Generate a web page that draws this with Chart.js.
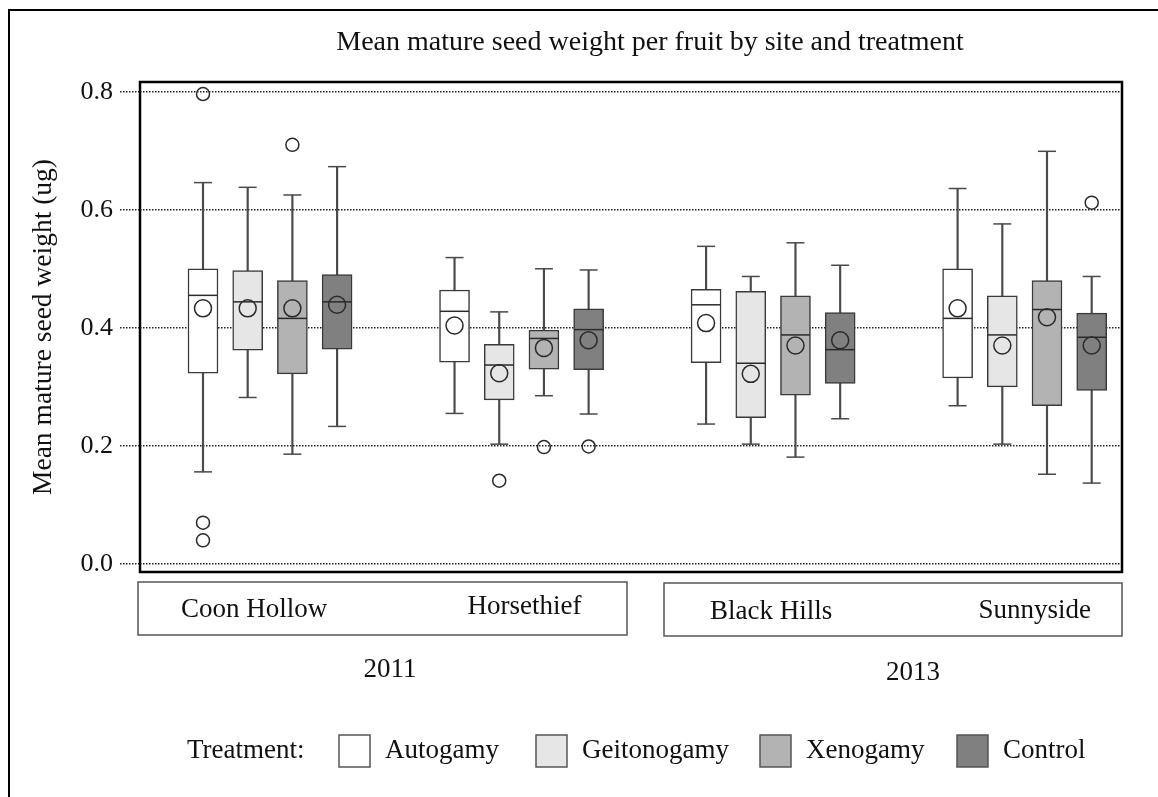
<!DOCTYPE html>
<html>
<head>
<meta charset="utf-8">
<title>Mean mature seed weight per fruit</title>
<script src="https://cdn.jsdelivr.net/npm/chart.js@4.4.1/dist/chart.umd.min.js"></script>
<style>
  html, body { margin: 0; padding: 0; background: #fff; overflow: hidden; }
  #wrap { width: 1158px; height: 797px; position: relative; }
</style>
</head>
<body>
<div id="wrap"><canvas id="seedChart"></canvas></div>
<script>
// sites (x groups), years they belong to, treatments (box colours)
const sites = ['Coon Hollow', 'Horsethief', 'Black Hills', 'Sunnyside'];
const years = ['2011', '2013'];
const treatments = ['Autogamy', 'Geitonogamy', 'Xenogamy', 'Control'];
const yTicks = [0.0, 0.2, 0.4, 0.6, 0.8];

// each row = one treatment, columns follow `sites`
const whiskerLow = [
    [0.156, 0.255, 0.237, 0.268],
    [0.282, 0.203, 0.203, 0.203],
    [0.186, 0.285, 0.181, 0.152],
    [0.233, 0.254, 0.246, 0.137]
];
const q1 = [
    [0.323, 0.342, 0.341, 0.315],
    [0.362, 0.278, 0.248, 0.300],
    [0.322, 0.330, 0.286, 0.268],
    [0.364, 0.329, 0.306, 0.294]
];
const medians = [
    [0.455, 0.428, 0.439, 0.416],
    [0.444, 0.337, 0.340, 0.388],
    [0.416, 0.382, 0.388, 0.431],
    [0.444, 0.397, 0.363, 0.384]
];
const q3 = [
    [0.500, 0.464, 0.465, 0.500],
    [0.497, 0.372, 0.462, 0.454],
    [0.480, 0.396, 0.454, 0.480],
    [0.490, 0.432, 0.426, 0.425]
];
const whiskerHigh = [
    [0.646, 0.519, 0.538, 0.636],
    [0.638, 0.427, 0.487, 0.576],
    [0.625, 0.500, 0.544, 0.699],
    [0.673, 0.498, 0.506, 0.487]
];
const means = [
    [0.433, 0.404, 0.408, 0.433],
    [0.433, 0.323, 0.322, 0.370],
    [0.433, 0.366, 0.370, 0.418],
    [0.439, 0.379, 0.379, 0.370]
];
const outliers = [
    [[0.796, 0.070, 0.040], [], [], []],
    [[], [0.141], [], []],
    [[0.710], [0.198], [], []],
    [[], [0.199], [], [0.612]]
];

const chartTitle = 'Mean mature seed weight per fruit by site and treatment';
const fills = ['#ffffff', '#e6e6e6', '#b3b3b3', '#808080'];
const serif = '"Liberation Serif", "Times New Roman", serif';
const ink = '#111111';

// box position inside a site group
const boxStep = 0.1777;
function boxX(t, s) {
    return (s + 1) + (t - 1.5) * boxStep;
}

const datasets = [];

treatments.forEach((name, t) => {
    // whisker stems behind the box
    datasets.push({
        type: 'bar',
        label: name + ' whisker',
        data: sites.map((_, s) => ({ x: boxX(t, s), y: [whiskerLow[t][s], whiskerHigh[t][s]] })),
        backgroundColor: '#4a4a4a',
        borderWidth: 0,
        grouped: false,
        barPercentage: 1,
        categoryPercentage: 1,
        maxBarThickness: 1.5,
        order: 6
    });
    // interquartile box
    datasets.push({
        type: 'bar',
        label: name,
        data: sites.map((_, s) => ({ x: boxX(t, s), y: [q1[t][s], q3[t][s]] })),
        backgroundColor: fills[t],
        borderColor: '#3a3a3a',
        borderWidth: 1.5,
        borderSkipped: false,
        grouped: false,
        barPercentage: 1,
        categoryPercentage: 1,
        maxBarThickness: 30,
        order: 5
    });
    // whisker caps
    const caps = [];
    sites.forEach((_, s) => {
        caps.push({ x: boxX(t, s), y: whiskerLow[t][s] });
        caps.push({ x: boxX(t, s), y: whiskerHigh[t][s] });
    });
    datasets.push({
        type: 'line',
        label: name + ' caps',
        data: caps,
        showLine: false,
        pointStyle: 'line',
        pointRadius: 9,
        borderColor: '#4a4a4a',
        borderWidth: 1.5,
        order: 4
    });
    // median line
    datasets.push({
        type: 'line',
        label: name + ' median',
        data: sites.map((_, s) => ({ x: boxX(t, s), y: medians[t][s] })),
        showLine: false,
        pointStyle: 'line',
        pointRadius: 14.5,
        borderColor: '#2a2a2a',
        borderWidth: 1.5,
        order: 3
    });
    // mean circle
    datasets.push({
        type: 'line',
        label: name + ' mean',
        data: sites.map((_, s) => ({ x: boxX(t, s), y: means[t][s] })),
        showLine: false,
        pointStyle: 'circle',
        pointRadius: 8.5,
        pointBackgroundColor: 'rgba(0,0,0,0)',
        pointBorderColor: '#2a2a2a',
        pointBorderWidth: 1.5,
        order: 2
    });
    // outliers
    const pts = [];
    sites.forEach((_, s) => {
        outliers[t][s].forEach(v => pts.push({ x: boxX(t, s), y: v }));
    });
    datasets.push({
        type: 'line',
        label: name + ' outliers',
        data: pts,
        showLine: false,
        pointStyle: 'circle',
        pointRadius: 6.5,
        pointBackgroundColor: 'rgba(0,0,0,0)',
        pointBorderColor: '#2a2a2a',
        pointBorderWidth: 1.5,
        order: 1
    });
});

// title, frame, site strips, year labels and the treatment key
const decorations = {
    id: 'decorations',
    afterDraw(chart) {
        const ctx = chart.ctx;
        const area = chart.chartArea;
        ctx.save();

        // outer figure border (only top/left visible)
        ctx.strokeStyle = '#000';
        ctx.lineWidth = 2;
        ctx.beginPath();
        ctx.moveTo(9, 797);
        ctx.lineTo(9, 10);
        ctx.lineTo(1158, 10);
        ctx.stroke();

        // panel frame
        ctx.lineWidth = 2.5;
        ctx.strokeStyle = '#000';
        ctx.strokeRect(area.left, area.top, area.right - area.left, area.bottom - area.top);

        // title
        ctx.fillStyle = ink;
        ctx.textBaseline = 'middle';
        ctx.textAlign = 'center';
        ctx.font = '28px ' + serif;
        ctx.fillText(chartTitle, 650, 43);

        // site strips, one per year
        const strips = [
            { x0: 138, x1: 627, y0: 582, y1: 635, year: years[0], yearX: 390, yearY: 670 },
            { x0: 664, x1: 1122, y0: 583, y1: 636, year: years[1], yearX: 913, yearY: 673 }
        ];
        ctx.lineWidth = 1.5;
        ctx.strokeStyle = '#555';
        ctx.font = '27px ' + serif;
        strips.forEach(st => {
            ctx.strokeRect(st.x0, st.y0, st.x1 - st.x0, st.y1 - st.y0);
            ctx.fillText(st.year, st.yearX, st.yearY);
        });
        const labelNudge = [-16, 3, -2, 10];
        const labelY = [610, 607, 612, 611];
        sites.forEach((s, i) => {
            const px = chart.scales.x.getPixelForValue(i + 1) + labelNudge[i];
            ctx.fillText(s, px, labelY[i]);
        });

        // treatment key
        ctx.textAlign = 'left';
        ctx.fillText('Treatment:', 187, 751);
        const keyX = [339, 536, 760, 957];
        treatments.forEach((name, t) => {
            ctx.fillStyle = fills[t];
            ctx.fillRect(keyX[t], 735, 31, 32);
            ctx.strokeStyle = '#555';
            ctx.lineWidth = 1.5;
            ctx.strokeRect(keyX[t], 735, 31, 32);
            ctx.fillStyle = ink;
            ctx.fillText(name, keyX[t] + 46, 751);
        });
        ctx.restore();
    }
};

new Chart(document.getElementById('seedChart'), {
    type: 'bar',
    data: { datasets },
    options: {
        responsive: true,
        maintainAspectRatio: false,
        animation: false,
        events: [],
        layout: { padding: { left: 10, top: 82, right: 36, bottom: 225 } },
        plugins: {
            legend: { display: false },
            tooltip: { enabled: false },
            title: { display: false }
        },
        scales: {
            x: {
                type: 'linear',
                display: false,
                offset: false,
                min: 0.483,
                max: 4.387,
                ticks: { stepSize: 1, includeBounds: false },
                grid: { offset: false }
            },
            y: {
                type: 'linear',
                min: -0.0136,
                max: 0.8164,
                afterBuildTicks: (scale) => {
                    scale.ticks = yTicks.map(v => ({ value: v }));
                },
                afterFit: (scale) => { scale.width = 130; },
                ticks: {
                    color: ink,
                    padding: 7,
                    font: { family: serif, size: 26 },
                    callback: (v) => Number(v).toFixed(1)
                },
                grid: {
                    color: '#222',
                    lineWidth: 1.5,
                    tickLength: 20,
                    tickColor: '#222',
                    tickWidth: 1.5,
                    tickBorderDash: [1.5, 1.5]
                },
                border: { display: false, dash: [1.5, 1.5] },
                title: {
                    display: true,
                    text: 'Mean mature seed weight (ug)',
                    color: ink,
                    font: { family: serif, size: 27.5 },
                    padding: { top: 17, bottom: 0 }
                }
            }
        }
    },
    plugins: [decorations]
});
</script>
</body>
</html>
